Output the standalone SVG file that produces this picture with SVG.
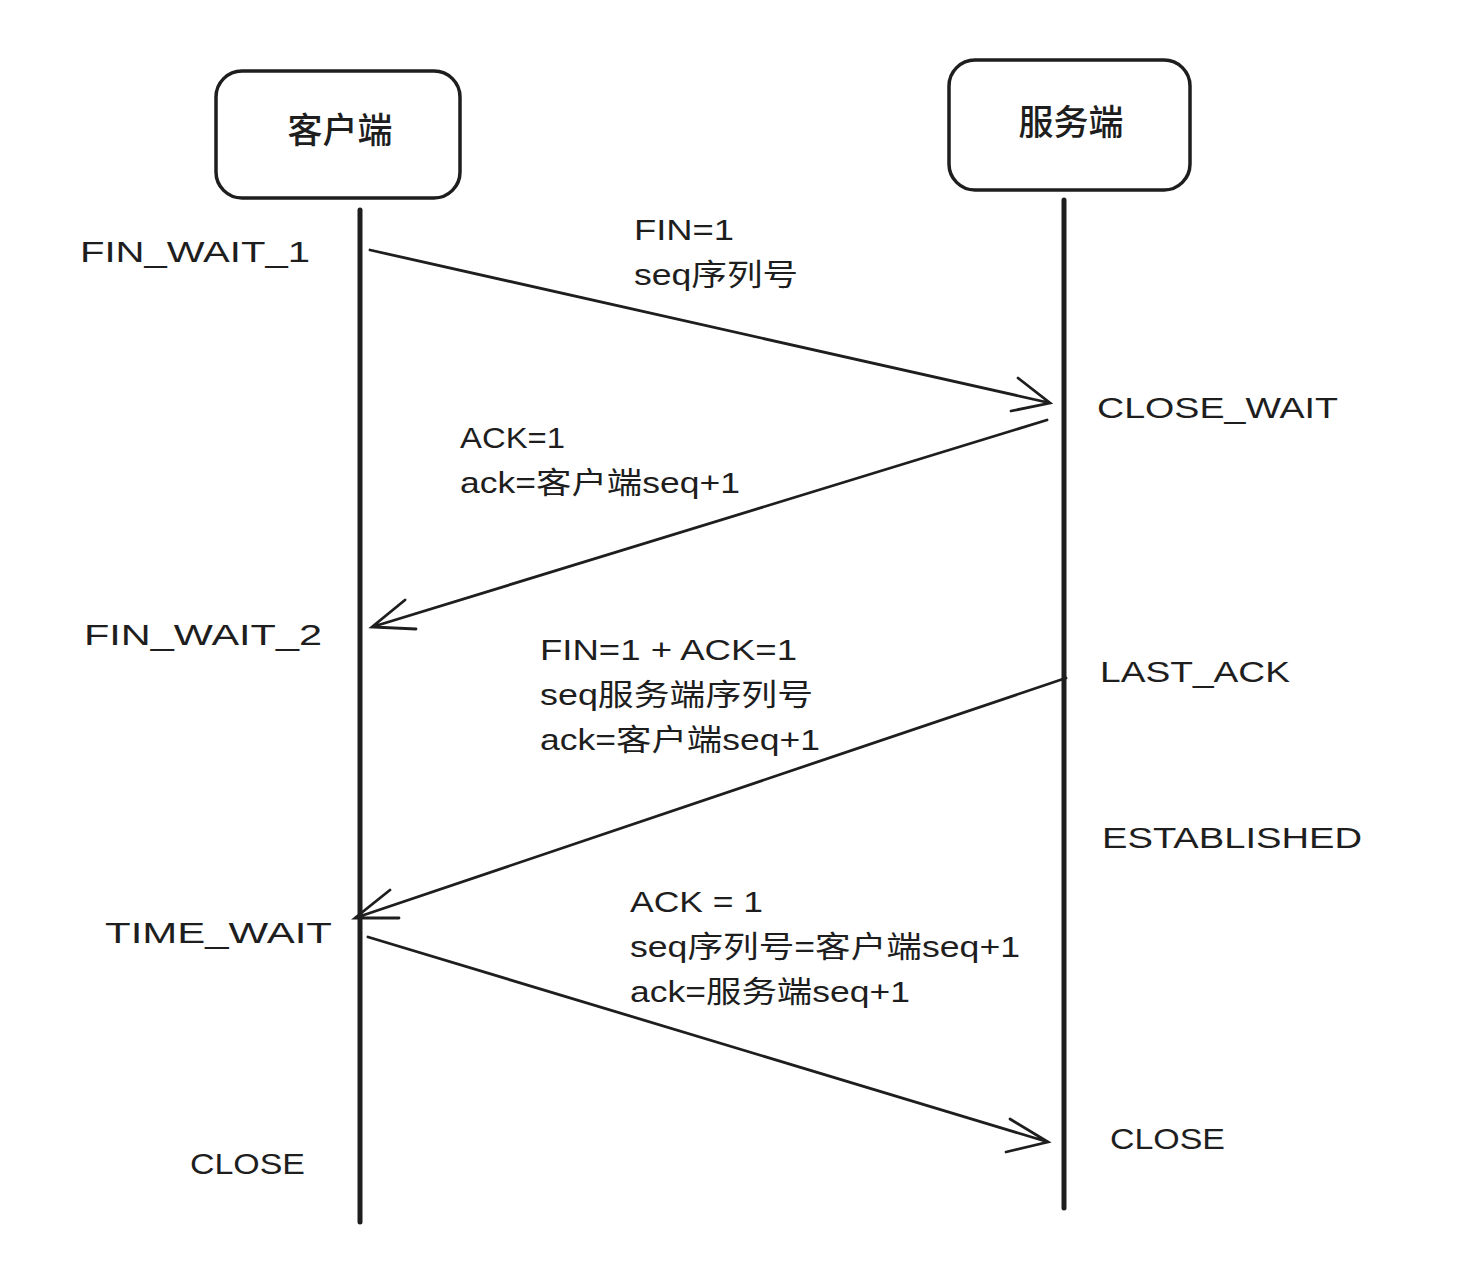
<svg xmlns="http://www.w3.org/2000/svg" width="1468" height="1272" viewBox="0 0 1468 1272">
<style>
.box{fill:#fff;stroke:#1e1e1e;stroke-width:3.5}
.life{stroke:#1e1e1e;stroke-width:5;stroke-linecap:round;fill:none}
.msg{stroke:#1e1e1e;stroke-width:2.8;stroke-linecap:round;fill:none}
.t{font-family:"Liberation Sans","Noto Sans CJK SC",sans-serif;font-size:30px;fill:#1e1e1e}
.h{font-family:"Noto Sans CJK SC",sans-serif;font-size:35px;font-weight:500;fill:#1e1e1e;text-anchor:middle}
</style>
<g id="client">
<rect class="box" x="216" y="71" width="244" height="127" rx="26"/>
<text class="h" x="340" y="143">客户端</text>
</g>
<g id="server">
<rect class="box" x="949" y="60" width="241" height="130" rx="26"/>
<text class="h" x="1071" y="135">服务端</text>
</g>
<g id="connectors">
<line class="life" x1="360" y1="210" x2="360" y2="1222"/>
<line class="life" x1="1064" y1="200" x2="1064" y2="1208"/>
<path class="msg" d="M370 250 L1050 403 M1018 378 L1050 403 L1011 411"/>
<path class="msg" d="M1047 420 L372 627 M405 600 L372 627 L416 629"/>
<path class="msg" d="M1066 678 L355 918 M390 890 L355 918 L399 918"/>
<path class="msg" d="M368 937 L1048 1142 M1010 1119 L1048 1142 L1006 1152"/>
</g>
<g id="labels">
<text class="t" x="80" y="262" textLength="230" lengthAdjust="spacingAndGlyphs">FIN_WAIT_1</text>
<text class="t" x="634" y="240" textLength="100" lengthAdjust="spacingAndGlyphs">FIN=1</text>
<text class="t" x="634" y="285" textLength="164" lengthAdjust="spacingAndGlyphs">seq序列号</text>
<text class="t" x="1097" y="418" textLength="241" lengthAdjust="spacingAndGlyphs">CLOSE_WAIT</text>
<text class="t" x="460" y="448" textLength="105" lengthAdjust="spacingAndGlyphs">ACK=1</text>
<text class="t" x="460" y="493" textLength="280" lengthAdjust="spacingAndGlyphs">ack=客户端seq+1</text>
<text class="t" x="84" y="645" textLength="238" lengthAdjust="spacingAndGlyphs">FIN_WAIT_2</text>
<text class="t" x="540" y="660" textLength="257" lengthAdjust="spacingAndGlyphs">FIN=1 + ACK=1</text>
<text class="t" x="540" y="705" textLength="273" lengthAdjust="spacingAndGlyphs">seq服务端序列号</text>
<text class="t" x="540" y="750" textLength="280" lengthAdjust="spacingAndGlyphs">ack=客户端seq+1</text>
<text class="t" x="1100" y="682" textLength="190" lengthAdjust="spacingAndGlyphs">LAST_ACK</text>
<text class="t" x="1102" y="848" textLength="260" lengthAdjust="spacingAndGlyphs">ESTABLISHED</text>
<text class="t" x="105" y="943" textLength="227" lengthAdjust="spacingAndGlyphs">TIME_WAIT</text>
<text class="t" x="630" y="912" textLength="133" lengthAdjust="spacingAndGlyphs">ACK = 1</text>
<text class="t" x="630" y="957" textLength="390" lengthAdjust="spacingAndGlyphs">seq序列号=客户端seq+1</text>
<text class="t" x="630" y="1002" textLength="280" lengthAdjust="spacingAndGlyphs">ack=服务端seq+1</text>
<text class="t" x="190" y="1174" textLength="115" lengthAdjust="spacingAndGlyphs">CLOSE</text>
<text class="t" x="1110" y="1149" textLength="115" lengthAdjust="spacingAndGlyphs">CLOSE</text>
</g>
</svg>
